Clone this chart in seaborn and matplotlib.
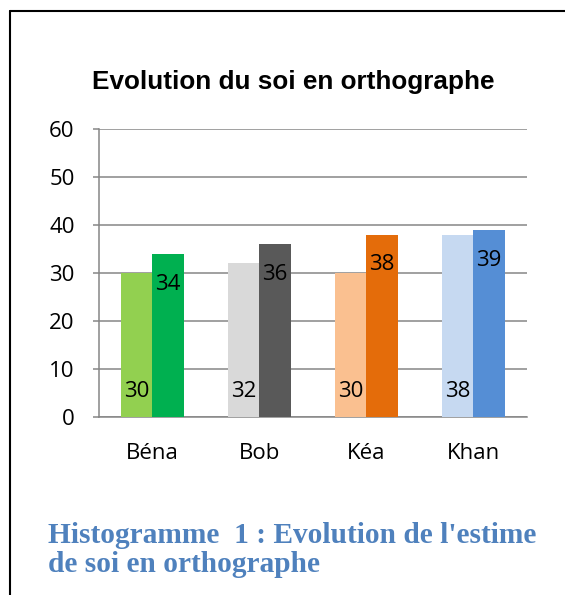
import pandas as pd
import matplotlib.pyplot as plt
import seaborn as sns
from matplotlib.lines import Line2D

# Data
eleves = ["Béna", "Bob", "Kéa", "Khan"]
serie1 = [30, 32, 30, 38]
serie2 = [34, 36, 38, 39]
couleurs1 = ["#92D050", "#D9D9D9", "#FAC090", "#C6D9F1"]
couleurs2 = ["#00B050", "#595959", "#E46C0A", "#558ED5"]
yticks = [0, 10, 20, 30, 40, 50, 60]

data = pd.DataFrame({
    "eleve": eleves * 2,
    "score": serie1 + serie2,
    "serie": ["Série 1"] * len(eleves) + ["Série 2"] * len(eleves),
})

sns.set_style("white")
plt.rcParams["font.family"] = ["Open Sans", "DejaVu Sans"]
plt.rcParams["text.color"] = "black"
plt.rcParams["xtick.labelcolor"] = "black"
plt.rcParams["ytick.labelcolor"] = "black"

grid_col = "#868686"
fs = 16
fig = plt.figure(figsize=(5.65, 5.95), dpi=100)
ax = fig.add_axes([0.1752, 0.2992, 0.7575, 0.4840])

sns.barplot(data=data, x="eleve", y="score", hue="serie", order=eleves,
            width=0.58, gap=0, legend=False, ax=ax, saturation=1)

# each bar has its own colour
for cont, cols in zip(ax.containers, [couleurs1, couleurs2]):
    for patch, c in zip(cont, cols):
        patch.set_facecolor(c)
        patch.set_edgecolor("none")
        patch.set_zorder(3)

# data labels
for patch, v in zip(ax.containers[0], serie1):
    ax.text(patch.get_x() + patch.get_width() / 2, 5.4, str(v),
            ha="center", va="center", fontsize=fs, color="black", zorder=4)
for patch, v in zip(ax.containers[1], serie2):
    ax.text(patch.get_x() + patch.get_width() / 2, v - 6.3, str(v),
            ha="center", va="center", fontsize=fs, color="black", zorder=4)

ax.set_xlim(-0.5, len(eleves) - 0.5)
ax.set_ylim(0, 60)
ax.set_yticks(yticks)
ax.set_xlabel("")
ax.set_ylabel("")
ax.grid(axis="y", color=grid_col, linewidth=1.1, zorder=0)
ax.set_axisbelow(True)
for s in ["top", "right"]:
    ax.spines[s].set_visible(False)
for s in ["left", "bottom"]:
    ax.spines[s].set_color(grid_col)
    ax.spines[s].set_linewidth(1.1)

ax.set_xticks([i - 0.5 for i in range(len(eleves) + 1)], minor=True)
ax.tick_params(axis="x", which="major", length=0, pad=19, labelsize=fs)
ax.tick_params(axis="x", which="minor", length=6, color=grid_col, width=1.1,
               direction="out")
ax.tick_params(axis="y", length=4.5, color=grid_col, width=1.1, pad=13,
               labelsize=fs, left=True)

fig.text(0.519, 0.862, "Evolution du soi en orthographe", ha="center",
         va="center", fontsize=18.8, fontweight="bold", color="black",
         family=["Liberation Sans", "DejaVu Sans"])

cap_font = dict(ha="left", va="baseline", fontsize=21.2, fontweight="bold",
                color="#4F81BD", family=["Liberation Serif", "DejaVu Serif"])
fig.text(0.085, 0.0874, "Histogramme  1 : Evolution de l'estime", **cap_font)
fig.text(0.085, 0.0387, "de soi en orthographe", **cap_font)

# frame of the chart (left and top edges)
fig.add_artist(Line2D([0.0177, 0.0177], [0.0, 0.981], transform=fig.transFigure,
                      color="black", linewidth=1.5))
fig.add_artist(Line2D([0.0177, 1.0], [0.981, 0.981], transform=fig.transFigure,
                      color="black", linewidth=1.5))

fig.savefig("out.png", dpi=100)
